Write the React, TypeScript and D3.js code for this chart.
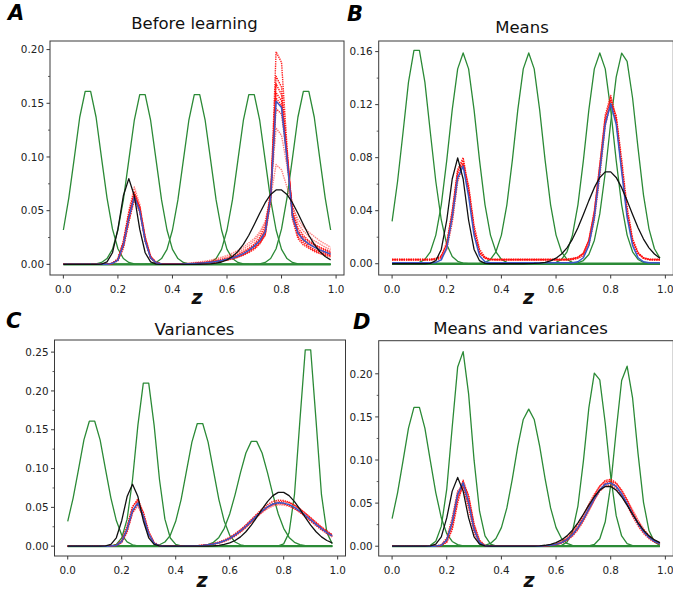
import React from "react";
import * as d3 from "d3";

// ---------- data ----------
const Z = [0,0.02,0.04,0.06,0.08,0.1,0.12,0.14,0.16,0.18,0.2,0.22,0.24,0.26,0.28,0.3,0.32,0.34,0.36,0.38,0.4,0.42,0.44,0.46,0.48,0.5,0.52,0.54,0.56,0.58,0.6,0.62,0.64,0.66,0.68,0.7,0.72,0.74,0.76,0.78,0.8,0.82,0.84,0.86,0.88,0.9,0.92,0.94,0.96,0.98];

const X_TICKS = [0, 0.2, 0.4, 0.6, 0.8, 1.0];
const Y_TICKS_A = [0, 0.05, 0.1, 0.15, 0.2];
const Y_TICKS_B = [0, 0.04, 0.08, 0.12, 0.16];
const Y_TICKS_C = [0, 0.05, 0.1, 0.15, 0.2, 0.25];
const Y_TICKS_D = [0, 0.05, 0.1, 0.15, 0.2];

const TITLES = ["Before learning", "Means", "Variances", "Means and variances"];
const LETTERS = ["A", "B", "C", "D"];
const X_LABEL = "z";

// target distribution (black)
const TARGET = [
0,0,0,0,0,0,0,0.0003,0.0023,0.0108,
0.0328,0.0639,0.0798,0.0639,0.0328,0.0108,0.0023,0.0003,0,0,
0,0,0,0,0,0.0001,0.0002,0.0005,0.0011,0.0022,
0.0042,0.0073,0.012,0.0186,0.0271,0.0371,0.0476,0.0574,0.0651,0.0693,
0.0693,0.0651,0.0574,0.0476,0.0371,0.0271,0.0186,0.012,0.0073,0.0042];

// green tuning curves
const GREEN_LOW = [
0.032,0.062,0.099,0.137,0.161,0.161,0.137,0.099,0.062,0.033,
0.0145,0.0055,0.0018,0.0005,0.0001,0,0,0,0,0,
0,0,0,0,0,0,0,0,0,0,
0,0,0,0,0,0,0,0,0,0,
0,0,0,0,0,0,0,0,0,0];
const GREEN_A2 = [
0,0,0,0,0,0.0001,0.0005,0.0018,0.0054,0.014,
0.032,0.06,0.097,0.134,0.158,0.158,0.134,0.097,0.06,0.032,
0.014,0.0054,0.0018,0.0005,0.0001,0,0,0,0,0,
0,0,0,0,0,0,0,0,0,0,
0,0,0,0,0,0,0,0,0,0];
const GREEN_A3 = [
0,0,0,0,0,0,0,0,0,0,
0,0,0,0,0,0.0001,0.0005,0.0018,0.0054,0.014,
0.032,0.06,0.097,0.134,0.158,0.158,0.134,0.097,0.06,0.032,
0.014,0.0054,0.0018,0.0005,0.0001,0,0,0,0,0,
0,0,0,0,0,0,0,0,0,0];
const GREEN_A4 = [
0,0,0,0,0,0,0,0,0,0,
0,0,0,0,0,0,0,0,0,0,
0,0,0,0,0,0.0001,0.0005,0.0018,0.0054,0.014,
0.032,0.06,0.097,0.134,0.158,0.158,0.134,0.097,0.06,0.032,
0.014,0.0054,0.0018,0.0005,0.0001,0,0,0,0,0];
const GREEN_A5 = [
0,0,0,0,0,0,0,0,0,0,
0,0,0,0,0,0,0,0,0,0,
0,0,0,0,0,0,0,0,0,0,
0,0,0,0,0,0.0001,0.0005,0.0018,0.0055,0.0145,
0.033,0.062,0.099,0.137,0.161,0.161,0.137,0.099,0.062,0.032];
const GREEN_B2 = [
0,0,0,0,0.0002,0.001,0.0032,0.009,0.0216,0.0444,
0.078,0.116,0.147,0.159,0.147,0.116,0.078,0.0444,0.0216,0.009,
0.0032,0.001,0.0002,0,0,0,0,0,0,0,
0,0,0,0,0,0,0,0,0,0,
0,0,0,0,0,0,0,0,0,0];
const GREEN_MID = [
0,0,0,0,0,0,0,0,0,0,
0,0,0,0,0,0,0.0002,0.001,0.0032,0.009,
0.0216,0.0444,0.078,0.116,0.147,0.159,0.147,0.116,0.078,0.0444,
0.0216,0.009,0.0032,0.001,0.0002,0,0,0,0,0,
0,0,0,0,0,0,0,0,0,0];
const GREEN_B4 = [
0,0,0,0,0,0,0,0,0,0,
0,0,0,0,0,0,0,0,0,0,
0,0,0,0,0,0,0,0,0,0.0002,
0.001,0.0032,0.009,0.0216,0.0444,0.078,0.116,0.147,0.159,0.147,
0.116,0.078,0.0444,0.0216,0.009,0.0032,0.001,0.0002,0,0];
const GREEN_B5 = [
0,0,0,0,0,0,0,0,0,0,
0,0,0,0,0,0,0,0,0,0,
0,0,0,0,0,0,0,0,0,0,
0,0,0,0,0.0007,0.0024,0.007,0.0176,0.0376,0.0686,
0.1065,0.1408,0.1588,0.1526,0.125,0.0872,0.0518,0.0263,0.0113,0.0042];
const GREEN_C2 = [
0,0,0,0,0,0,0,0,0.0004,0.0023,
0.0105,0.0348,0.0856,0.156,0.21,0.21,0.156,0.0856,0.0348,0.0105,
0.0023,0.0004,0,0,0,0,0,0,0,0,
0,0,0,0,0,0,0,0,0,0,
0,0,0,0,0,0,0,0,0,0];
const GREEN_C4 = [
0,0,0,0,0,0,0,0,0,0,
0,0,0,0,0,0,0,0,0,0,
0,0,0,0,0.0002,0.0007,0.0019,0.005,0.0113,0.023,
0.0415,0.0665,0.0948,0.12,0.135,0.135,0.12,0.0948,0.0665,0.0415,
0.023,0.0113,0.005,0.0019,0.0007,0.0002,0,0,0,0];
const GREEN_C5 = [
0,0,0,0,0,0,0,0,0,0,
0,0,0,0,0,0,0,0,0,0,
0,0,0,0,0,0,0,0,0,0,
0,0,0,0,0,0,0,0,0,0.0003,
0.003,0.0175,0.0663,0.1614,0.253,0.253,0.1614,0.0663,0.0175,0.003];
const GREEN_D2 = [
0,0,0,0,0,0,0.0001,0.001,0.0057,0.023,
0.0663,0.1383,0.208,0.2257,0.1767,0.0998,0.0406,0.0119,0.0025,0.0004,
0,0,0,0,0,0,0,0,0,0,
0,0,0,0,0,0,0,0,0,0,
0,0,0,0,0,0,0,0,0,0];
const GREEN_D4 = [
0,0,0,0,0,0,0,0,0,0,
0,0,0,0,0,0,0,0,0,0,
0,0,0,0,0,0,0,0,0,0,
0.0002,0.001,0.0047,0.0169,0.0466,0.0987,0.1605,0.2007,0.193,0.1426,
0.081,0.0354,0.0119,0.0031,0.0006,0,0,0,0,0];
const GREEN_D5 = [
0,0,0,0,0,0,0,0,0,0,
0,0,0,0,0,0,0,0,0,0,
0,0,0,0,0,0,0,0,0,0,
0,0,0,0,0,0,0.0004,0.002,0.0086,0.0284,
0.0709,0.134,0.1922,0.2088,0.172,0.1074,0.0509,0.0182,0.005,0.001];

// blue means
const BLUE_A = [
0,0,0,0,0,0,0,0,0,0.001,
0.004,0.018,0.043,0.063,0.05,0.022,0.006,0.0015,0.0003,0.0001,
0.0001,0.0002,0.0003,0.0005,0.0007,0.001,0.0014,0.002,0.0027,0.0036,
0.0047,0.006,0.0078,0.01,0.013,0.017,0.022,0.03,0.062,0.152,
0.146,0.098,0.045,0.029,0.023,0.019,0.016,0.0135,0.0115,0.0095];
const BLUE_B = [
0.0007,0.0007,0.0007,0.0007,0.0007,0.0007,0.0007,0.0007,0.001,0.0029,
0.0119,0.0351,0.065,0.0736,0.0508,0.0216,0.006,0.0015,0.0008,0.0007,
0.0007,0.0007,0.0007,0.0007,0.0007,0.0007,0.0007,0.0007,0.0007,0.0007,
0.0007,0.0007,0.0007,0.0008,0.0015,0.0045,0.0138,0.0352,0.0697,0.1052,
0.1207,0.1052,0.0697,0.0352,0.0138,0.0045,0.0015,0.0008,0.0007,0.0007];
const BLUE_C = [
0,0,0,0,0,0,0,0,0.0001,0.001,
0.006,0.0219,0.0459,0.0557,0.039,0.0158,0.0037,0.0005,0,0,
0,0,0.0001,0.0003,0.0005,0.001,0.0017,0.0028,0.0045,0.0069,
0.0101,0.0144,0.0196,0.0256,0.0323,0.039,0.0453,0.0506,0.0543,0.0559,
0.0555,0.0535,0.0499,0.0453,0.0398,0.034,0.0281,0.0226,0.0176,0.0133];
const BLUE_D = [
0,0,0,0,0,0,0,0,0.0001,0.0011,
0.0073,0.0278,0.0602,0.0735,0.0507,0.0198,0.0043,0.0005,0,0,
0,0,0,0,0,0,0,0,0.0004,0.001,
0.0021,0.0042,0.0077,0.0133,0.0213,0.0315,0.0434,0.0553,0.0655,0.072,
0.0733,0.0693,0.0608,0.0495,0.0373,0.0261,0.017,0.0102,0.0057,0.003];

// red samples
const RED_A1 = [
0,0,0,0,0,0,0,0,0,0.001,
0.005,0.02,0.046,0.066,0.052,0.023,0.006,0.0015,0.0003,0.0001,
0.0001,0.0002,0.0003,0.0004,0.0006,0.0009,0.0012,0.0017,0.0023,0.003,
0.004,0.005,0.0066,0.0085,0.011,0.014,0.019,0.027,0.06,0.198,
0.188,0.11,0.042,0.024,0.018,0.015,0.012,0.01,0.0085,0.007];
const RED_A2 = [
0,0,0,0,0,0,0,0,0,0.001,
0.005,0.021,0.048,0.068,0.053,0.024,0.0065,0.0016,0.0003,0.0001,
0.0001,0.0002,0.0003,0.0005,0.0007,0.001,0.0013,0.0018,0.0025,0.0033,
0.0043,0.0056,0.0072,0.0093,0.012,0.015,0.02,0.028,0.064,0.175,
0.165,0.105,0.044,0.026,0.02,0.016,0.013,0.011,0.0095,0.008];
const RED_A3 = [
0,0,0,0,0,0,0,0,0,0.0008,
0.004,0.016,0.04,0.06,0.049,0.022,0.0062,0.0015,0.0003,0.0001,
0.0001,0.0002,0.0003,0.0005,0.0007,0.001,0.0014,0.002,0.0027,0.0036,
0.0047,0.006,0.0078,0.01,0.013,0.017,0.022,0.031,0.065,0.168,
0.158,0.102,0.046,0.029,0.023,0.019,0.016,0.0135,0.0115,0.0095];
const RED_A4 = [
0,0,0,0,0,0,0,0,0,0.001,
0.0045,0.019,0.045,0.065,0.051,0.022,0.006,0.0015,0.0003,0.0001,
0.0001,0.0002,0.0004,0.0006,0.0008,0.0012,0.0016,0.0023,0.003,0.004,
0.0052,0.0066,0.0085,0.011,0.014,0.018,0.023,0.032,0.062,0.16,
0.152,0.1,0.047,0.031,0.025,0.021,0.018,0.015,0.013,0.011];
const RED_A5 = [
0,0,0,0,0,0,0,0,0,0.0007,
0.0035,0.015,0.039,0.062,0.053,0.025,0.0075,0.002,0.0004,0.0001,
0.0001,0.0002,0.0003,0.0004,0.0006,0.0009,0.0012,0.0017,0.0023,0.0031,
0.0041,0.0054,0.007,0.009,0.012,0.0155,0.02,0.028,0.058,0.155,
0.148,0.104,0.05,0.03,0.022,0.017,0.014,0.012,0.01,0.0085];
const RED_A6 = [
0,0,0,0,0,0,0,0,0,0.001,
0.0048,0.02,0.046,0.064,0.05,0.022,0.006,0.0015,0.0003,0.0001,
0.0002,0.0003,0.0004,0.0006,0.0009,0.0013,0.0018,0.0025,0.0034,0.0045,
0.0058,0.0074,0.0094,0.012,0.015,0.019,0.025,0.035,0.066,0.145,
0.14,0.1,0.05,0.034,0.027,0.022,0.019,0.016,0.014,0.012];
const RED_A7 = [
0,0,0,0,0,0,0,0,0,0.0012,
0.0055,0.022,0.05,0.072,0.056,0.025,0.007,0.0018,0.0004,0.0001,
0.0002,0.0003,0.0005,0.0008,0.0012,0.0017,0.0023,0.0031,0.0041,0.0053,
0.0068,0.0086,0.011,0.014,0.0175,0.022,0.028,0.038,0.066,0.127,
0.12,0.092,0.055,0.038,0.031,0.026,0.022,0.019,0.016,0.014];
const RED_A8 = [
0,0,0,0,0,0,0,0,0,0.0009,
0.0042,0.018,0.044,0.066,0.054,0.026,0.0078,0.002,0.0004,0.0002,
0.0003,0.0005,0.0008,0.0012,0.0017,0.0023,0.003,0.004,0.0052,0.0066,
0.0083,0.0104,0.013,0.016,0.02,0.024,0.03,0.04,0.062,0.093,
0.088,0.072,0.054,0.042,0.035,0.03,0.026,0.022,0.019,0.016];

const RED_B1 = [
0.0035,0.0035,0.0035,0.0035,0.0035,0.0035,0.0035,0.0035,0.004,0.006,
0.016,0.04,0.071,0.08,0.057,0.026,0.009,0.0045,0.0035,0.0035,
0.0035,0.0035,0.0035,0.0035,0.0035,0.0035,0.0035,0.0035,0.0035,0.0035,
0.0035,0.0035,0.0035,0.004,0.005,0.008,0.018,0.04,0.075,0.112,
0.127,0.11,0.074,0.039,0.017,0.008,0.0045,0.0035,0.0035,0.0035];
const RED_B2 = [
0.003,0.003,0.003,0.003,0.003,0.003,0.003,0.003,0.0035,0.005,
0.014,0.037,0.068,0.076,0.054,0.024,0.008,0.004,0.003,0.003,
0.003,0.003,0.003,0.003,0.003,0.003,0.003,0.003,0.003,0.003,
0.003,0.003,0.003,0.0035,0.0045,0.0075,0.017,0.038,0.072,0.108,
0.123,0.108,0.072,0.038,0.017,0.0075,0.004,0.003,0.003,0.003];
const RED_B3 = [
0.0028,0.0028,0.0028,0.0028,0.0028,0.0028,0.0028,0.0028,0.003,0.004,
0.011,0.031,0.062,0.075,0.059,0.029,0.011,0.005,0.0032,0.0028,
0.0028,0.0028,0.0028,0.0028,0.0028,0.0028,0.0028,0.0028,0.0028,0.0028,
0.0028,0.0028,0.0028,0.003,0.004,0.006,0.014,0.033,0.066,0.104,
0.121,0.112,0.079,0.043,0.019,0.0085,0.0045,0.003,0.0028,0.0028];
const RED_B4 = [
0.0032,0.0032,0.0032,0.0032,0.0032,0.0032,0.0032,0.0032,0.0037,0.0055,
0.015,0.039,0.07,0.078,0.055,0.025,0.0085,0.0042,0.0032,0.0032,
0.0032,0.0032,0.0032,0.0032,0.0032,0.0032,0.0032,0.0032,0.0032,0.0032,
0.0032,0.0032,0.0032,0.0037,0.0048,0.0078,0.0175,0.039,0.074,0.11,
0.125,0.109,0.073,0.0385,0.017,0.0078,0.0042,0.0032,0.0032,0.0032];

const RED_C1 = [
0,0,0,0,0,0,0,0,0.0001,0.0012,
0.0068,0.024,0.0505,0.061,0.043,0.0175,0.0041,0.0006,0,0,
0,0,0.0001,0.0003,0.0006,0.0011,0.0019,0.003,0.0048,0.0073,
0.0107,0.0153,0.0208,0.0271,0.0342,0.0413,0.048,0.0536,0.0576,0.0593,
0.0588,0.0567,0.0529,0.048,0.0422,0.036,0.0298,0.024,0.0187,0.0141];
const RED_C2 = [
0,0,0,0,0,0,0,0,0.0001,0.0009,
0.0056,0.0204,0.0427,0.0518,0.0363,0.0147,0.0034,0.0005,0,0,
0,0,0.0001,0.0003,0.0005,0.001,0.0017,0.0027,0.0043,0.0066,
0.0097,0.0138,0.0188,0.0245,0.031,0.0373,0.0432,0.0482,0.0517,0.0533,
0.053,0.0513,0.0481,0.0439,0.0389,0.0336,0.0282,0.0231,0.0185,0.0146];
const RED_C3 = [
0,0,0,0,0,0,0,0,0,0.0007,
0.0045,0.018,0.043,0.0575,0.044,0.019,0.005,0.0008,0,0,
0,0,0,0.0002,0.0004,0.0008,0.0014,0.0024,0.0039,0.006,
0.009,0.013,0.018,0.024,0.0308,0.0378,0.0445,0.0505,0.055,0.0572,
0.0574,0.0558,0.0525,0.0481,0.0427,0.0368,0.0308,0.025,0.0197,0.015];
const RED_C4 = [
0,0,0,0,0,0,0,0,0.0001,0.001,
0.0058,0.0212,0.0445,0.054,0.0378,0.0153,0.0036,0.0005,0,0,
0,0,0.0001,0.0003,0.0005,0.001,0.0017,0.0027,0.0044,0.0068,
0.0099,0.0141,0.0192,0.0251,0.0317,0.0382,0.0444,0.0496,0.0532,0.0548,
0.0544,0.0524,0.0489,0.0444,0.039,0.0333,0.0275,0.0221,0.0172,0.013];
const RED_C5 = [
0,0,0,0,0,0,0,0,0.0002,0.0014,
0.0075,0.026,0.051,0.059,0.039,0.015,0.0034,0.0005,0,0,
0,0,0.0002,0.0004,0.0007,0.0013,0.0021,0.0034,0.0053,0.008,
0.0115,0.016,0.0213,0.0273,0.0337,0.0401,0.0459,0.0507,0.0541,0.0556,
0.0549,0.0525,0.0486,0.0437,0.0381,0.0322,0.0264,0.021,0.0162,0.0121];

const RED_D1 = [
0,0,0,0,0,0,0,0,0,0.0007,
0.0052,0.022,0.055,0.0765,0.0575,0.024,0.006,0.0008,0,0,
0,0,0,0,0,0,0,0,0.0004,0.0011,
0.0022,0.0045,0.0082,0.0141,0.0226,0.0334,0.046,0.0586,0.0694,0.0763,
0.0777,0.0735,0.0644,0.0525,0.0395,0.0277,0.018,0.0108,0.006,0.0032];
const RED_D2 = [
0,0,0,0,0,0,0,0,0.0001,0.001,
0.0068,0.0259,0.056,0.0684,0.0472,0.0184,0.004,0.0005,0,0,
0,0,0,0,0,0,0,0,0.0004,0.001,
0.002,0.0041,0.0075,0.0129,0.0207,0.0306,0.0421,0.0536,0.0635,0.0698,
0.0711,0.0672,0.059,0.048,0.0362,0.0253,0.0165,0.0099,0.0055,0.0029];
const RED_D3 = [
0,0,0,0,0,0,0,0,0,0.0006,
0.0045,0.019,0.05,0.073,0.059,0.026,0.007,0.001,0,0,
0,0,0,0,0,0,0,0,0.0003,0.0008,
0.0017,0.0035,0.0066,0.0116,0.0191,0.029,0.0411,0.0536,0.065,0.0732,
0.0758,0.0728,0.0652,0.0543,0.0419,0.0301,0.0201,0.0124,0.0071,0.0038];
const RED_D4 = [
0,0,0,0,0,0,0,0,0.0002,0.0016,
0.0095,0.033,0.064,0.07,0.044,0.0155,0.003,0.0003,0,0,
0,0,0,0,0,0,0,0.0002,0.0006,0.0014,
0.0028,0.0054,0.0097,0.0162,0.0254,0.0365,0.0489,0.0604,0.0699,0.0754,
0.0753,0.0695,0.0596,0.0474,0.0347,0.0236,0.0149,0.0087,0.0047,0.0024];
const RED_D5 = [
0,0,0,0,0,0,0,0,0.0001,0.0011,
0.0075,0.0284,0.0614,0.075,0.0517,0.0202,0.0044,0.0005,0,0,
0,0,0,0,0,0,0,0,0.0004,0.001,
0.0021,0.0042,0.0077,0.0133,0.0213,0.0315,0.0434,0.0553,0.0655,0.072,
0.0733,0.0693,0.0608,0.0495,0.0373,0.0261,0.017,0.0102,0.0057,0.003];

// ---------- layout & style ----------
const FONT = "'DejaVu Sans', sans-serif";
const GREEN = "#2b8a36";
const BLUE = "#3a58c8";
const RED = "#ff0a0a";

type Panel = {
  idx: number;
  left: number; right: number; top: number; bottom: number;
  yDomain: [number, number];
  yTicks: number[];
  yFmt: string;
  greens: number[][];
  reds: number[][];
  redOpacity: number[];
  blue: number[];
  titleX: number; titleY: number;
  letterX: number; letterY: number;
  zX: number; zY: number;
};

const PANELS: Panel[] = [
  {
    idx: 0, left: 50, right: 344, top: 41, bottom: 275,
    yDomain: [-0.0099, 0.208], yTicks: Y_TICKS_A, yFmt: ".2f",
    greens: [GREEN_LOW, GREEN_A2, GREEN_A3, GREEN_A4, GREEN_A5],
    reds: [RED_A8, RED_A7, RED_A6, RED_A5, RED_A4, RED_A3, RED_A2, RED_A1],
    redOpacity: [0.5, 0.55, 0.9, 0.9, 0.95, 0.95, 0.95, 0.9],
    blue: BLUE_A,
    titleX: 194.5, titleY: 29, letterX: 8, letterY: 20, zX: 197, zY: 304,
  },
  {
    idx: 1, left: 378.7, right: 673.3, top: 41, bottom: 275,
    yDomain: [-0.0085, 0.168], yTicks: Y_TICKS_B, yFmt: ".2f",
    greens: [GREEN_LOW, GREEN_B2, GREEN_MID, GREEN_B4, GREEN_B5],
    reds: [RED_B3, RED_B2, RED_B4, RED_B1],
    redOpacity: [0.9, 0.9, 0.9, 0.9],
    blue: BLUE_B,
    titleX: 522, titleY: 33, letterX: 347, letterY: 20.5, zX: 528.5, zY: 304,
  },
  {
    idx: 2, left: 54.5, right: 345.5, top: 340, bottom: 556,
    yDomain: [-0.01265, 0.2656], yTicks: Y_TICKS_C, yFmt: ".2f",
    greens: [GREEN_LOW, GREEN_C2, GREEN_A3, GREEN_C4, GREEN_C5],
    reds: [RED_C2, RED_C4, RED_C3, RED_C5, RED_C1],
    redOpacity: [0.55, 0.85, 0.9, 0.9, 0.95],
    blue: BLUE_C,
    titleX: 194.5, titleY: 335, letterX: 6, letterY: 328, zX: 202, zY: 587,
  },
  {
    idx: 3, left: 378.7, right: 673.3, top: 340.7, bottom: 556,
    yDomain: [-0.01135, 0.2384], yTicks: Y_TICKS_D, yFmt: ".2f",
    greens: [GREEN_LOW, GREEN_D2, GREEN_MID, GREEN_D4, GREEN_D5],
    reds: [RED_D2, RED_D4, RED_D3, RED_D5, RED_D1],
    redOpacity: [0.7, 0.85, 0.9, 0.9, 0.95],
    blue: BLUE_D,
    titleX: 520.5, titleY: 333.5, letterX: 353, letterY: 328.5, zX: 529, zY: 587,
  },
];

function PanelView({ p }: { p: Panel }) {
  const x = d3.scaleLinear().domain([-0.049, 1.029]).range([p.left, p.right]);
  const y = d3.scaleLinear().domain(p.yDomain).range([p.bottom, p.top]);
  const lineGen = d3
    .line<number>()
    .x((_, i) => x(Z[i]))
    .y((v) => y(v));
  const yFmt = d3.format(p.yFmt);
  const xFmt = d3.format(".1f");
  const minor = p.yTicks.slice(1).map((t, i) => (t + p.yTicks[i]) / 2);
  const clipId = `clip-${p.idx}`;
  return (
    <g>
      <defs>
        <clipPath id={clipId}>
          <rect x={p.left} y={p.top} width={p.right - p.left} height={p.bottom - p.top} />
        </clipPath>
      </defs>
      <g clipPath={`url(#${clipId})`} fill="none" strokeLinejoin="round">
        {p.greens.map((g, i) => (
          <path key={`g${i}`} d={lineGen(g) || ""} stroke={GREEN} strokeWidth={1.3} />
        ))}
        <line
          x1={x(Z[0])}
          x2={x(Z[Z.length - 1])}
          y1={y(0)}
          y2={y(0)}
          stroke={GREEN}
          strokeWidth={2.3}
        />
        {p.reds.map((r, i) => (
          <path
            key={`r${i}`}
            d={lineGen(r) || ""}
            stroke={RED}
            strokeWidth={1.4}
            strokeDasharray="1.4 0.9"
            opacity={p.redOpacity[i]}
          />
        ))}
        <path d={lineGen(p.blue) || ""} stroke={BLUE} strokeWidth={1.5} />
        <path d={lineGen(TARGET) || ""} stroke="#111" strokeWidth={1.3} />
      </g>
      {/* spines */}
      <rect
        x={p.left}
        y={p.top}
        width={p.right - p.left}
        height={p.bottom - p.top}
        fill="none"
        stroke="#3a3a3a"
        strokeWidth={1}
      />
      {/* y ticks */}
      {p.yTicks.map((t) => (
        <g key={`yt${t}`}>
          <line x1={p.left - 3.5} x2={p.left} y1={y(t)} y2={y(t)} stroke="#3a3a3a" strokeWidth={1} />
          <text
            x={p.left - 6}
            y={y(t)}
            dy="0.36em"
            textAnchor="end"
            fontFamily={FONT}
            fontSize={10.4}
            fill="#222"
          >
            {yFmt(t)}
          </text>
        </g>
      ))}
      {minor.map((t) => (
        <line key={`ym${t}`} x1={p.left - 2} x2={p.left} y1={y(t)} y2={y(t)} stroke="#3a3a3a" strokeWidth={0.8} />
      ))}
      {/* x ticks */}
      {X_TICKS.map((t) => (
        <g key={`xt${t}`}>
          <line x1={x(t)} x2={x(t)} y1={p.bottom} y2={p.bottom + 3.5} stroke="#3a3a3a" strokeWidth={1} />
          <text
            x={x(t)}
            y={p.bottom + 17.5}
            textAnchor="middle"
            fontFamily={FONT}
            fontSize={10.4}
            fill="#222"
          >
            {xFmt(t)}
          </text>
        </g>
      ))}
      <text
        x={p.titleX}
        y={p.titleY}
        textAnchor="middle"
        fontFamily={FONT}
        fontSize={16.5}
        fill="#111"
      >
        {TITLES[p.idx]}
      </text>
      <text
        x={p.letterX}
        y={p.letterY}
        fontFamily={FONT}
        fontSize={21}
        fontWeight="bold"
        fontStyle="italic"
        fill="#000"
      >
        {LETTERS[p.idx]}
      </text>
      <text
        x={p.zX}
        y={p.zY}
        textAnchor="middle"
        fontFamily={FONT}
        fontSize={19}
        fontWeight="bold"
        fontStyle="italic"
        fill="#111"
      >
        {X_LABEL}
      </text>
    </g>
  );
}

export default function App() {
  return (
    <svg
      width={673}
      height={592}
      viewBox="0 0 673 592"
      style={{ position: "absolute", left: 0, top: 0, display: "block", background: "#fff" }}
    >
      <rect x={0} y={0} width={673} height={592} fill="#fff" />
      {PANELS.map((p) => (
        <PanelView key={p.idx} p={p} />
      ))}
    </svg>
  );
}
